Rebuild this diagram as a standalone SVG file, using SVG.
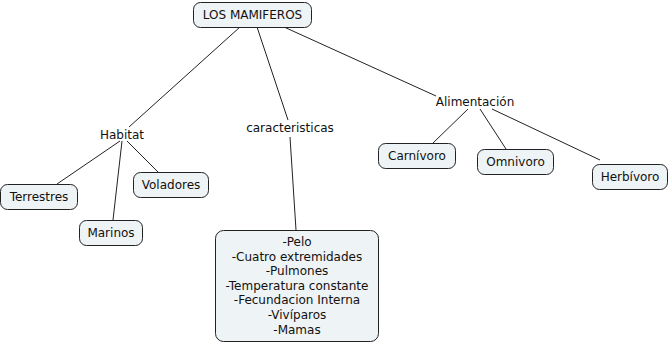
<svg xmlns="http://www.w3.org/2000/svg" width="669" height="344" viewBox="0 0 669 344">
<style>
.box{fill:#eef3f5;stroke:#222;stroke-width:1}
.t{font-family:"DejaVu Sans",Verdana,sans-serif;font-size:12px;fill:#111;text-anchor:middle}
.c line{stroke:#222;stroke-width:1}
</style>
<rect width="669" height="344" fill="#fff"/>
<g class="c" id="connectors">
<line x1="240" y1="27" x2="129" y2="127"/>
<line x1="257" y1="27" x2="288" y2="120"/>
<line x1="284" y1="27" x2="436" y2="96"/>
<line x1="120" y1="141" x2="57" y2="184"/>
<line x1="122" y1="141" x2="113" y2="220"/>
<line x1="127" y1="141" x2="158" y2="172"/>
<line x1="290" y1="137" x2="296" y2="230"/>
<line x1="468" y1="109" x2="433" y2="143"/>
<line x1="480" y1="109" x2="506" y2="149"/>
<line x1="492" y1="109" x2="600" y2="160"/>
</g>
<g id="n-mamiferos"><rect class="box" x="193.5" y="2.5" width="118" height="25" rx="7"/><text class="t" x="252.5" y="19">LOS MAMIFEROS</text></g>
<g id="n-habitat"><text class="t" x="122" y="139">Habitat</text></g>
<g id="n-caracteristicas"><text class="t" x="290" y="132">caracteristicas</text></g>
<g id="n-alimentacion"><text class="t" x="475" y="106">Alimentación</text></g>
<g id="n-terrestres"><rect class="box" x="0.5" y="184.5" width="77" height="25" rx="7"/><text class="t" x="39" y="201">Terrestres</text></g>
<g id="n-voladores"><rect class="box" x="133.5" y="172.5" width="75" height="25" rx="7"/><text class="t" x="171" y="189">Voladores</text></g>
<g id="n-marinos"><rect class="box" x="79.5" y="220.5" width="63" height="25" rx="7"/><text class="t" x="111" y="237">Marinos</text></g>
<g id="n-rasgos"><rect class="box" x="215.5" y="230.5" width="163" height="111" rx="8"/>
<text class="t" x="297" y="246">-Pelo</text>
<text class="t" x="297" y="261">-Cuatro extremidades</text>
<text class="t" x="297" y="275">-Pulmones</text>
<text class="t" x="297" y="290">-Temperatura constante</text>
<text class="t" x="297" y="304">-Fecundacion Interna</text>
<text class="t" x="297" y="319">-Vivíparos</text>
<text class="t" x="297" y="334">-Mamas</text>
</g>
<g id="n-carnivoro"><rect class="box" x="378.5" y="143.5" width="77" height="25" rx="7"/><text class="t" x="417" y="160">Carnívoro</text></g>
<g id="n-omnivoro"><rect class="box" x="477.5" y="149.5" width="76" height="25" rx="7"/><text class="t" x="515.5" y="166">Omnivoro</text></g>
<g id="n-herbivoro"><rect class="box" x="592.5" y="164.5" width="75" height="25" rx="7"/><text class="t" x="630" y="181">Herbívoro</text></g>
</svg>
